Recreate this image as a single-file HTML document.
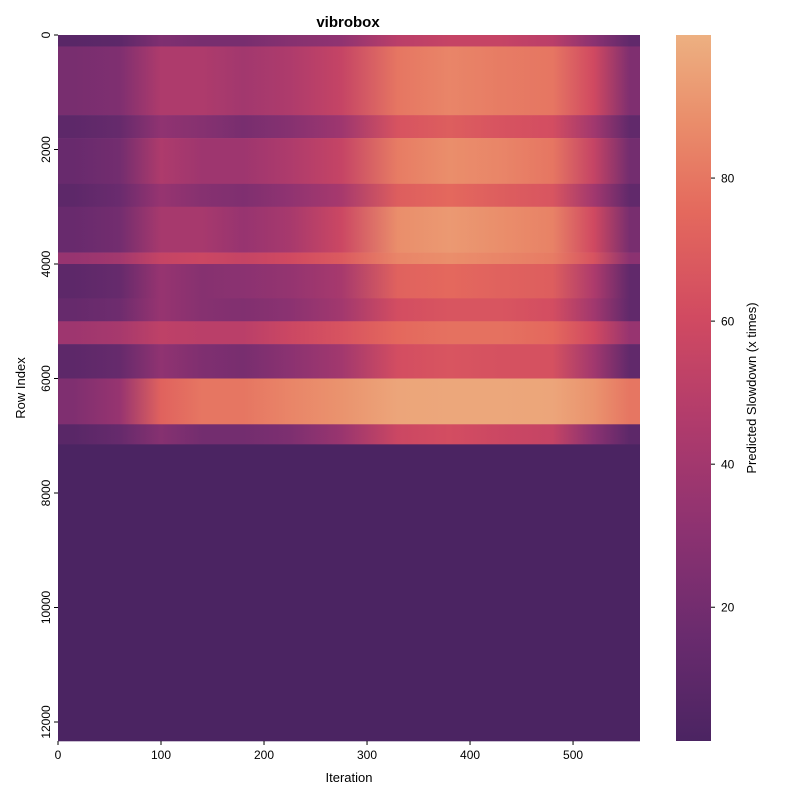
<!DOCTYPE html>
<html><head><meta charset="utf-8"><style>
body{margin:0;background:#fff;}
svg text{font-family:"Liberation Sans","DejaVu Sans",sans-serif;fill:#000;}
</style></head><body>
<svg id="chart" width="800" height="800" viewBox="0 0 800 800" xmlns="http://www.w3.org/2000/svg">
<defs id="defs">
<linearGradient id="cbar" x1="0" y1="1" x2="0" y2="0">
<stop offset="0" stop-color="#4b2462"/><stop offset="0.15" stop-color="#6a2b6e"/><stop offset="0.3" stop-color="#8d3271"/><stop offset="0.45" stop-color="#b03b6c"/><stop offset="0.6" stop-color="#d14a61"/><stop offset="0.75" stop-color="#e4695d"/><stop offset="0.88" stop-color="#ea8e6b"/><stop offset="1" stop-color="#edb081"/>
</linearGradient>
</defs>
<text x="348" y="27" font-size="15" font-weight="bold" text-anchor="middle">vibrobox</text>
<g id="cells"></g>
<g id="xaxis"></g>
<g id="yaxis"></g>
<text x="349" y="782" font-size="13" text-anchor="middle">Iteration</text>
<text transform="translate(25,388) rotate(-90)" font-size="13" text-anchor="middle">Row Index</text>
<rect x="676" y="35" width="35" height="706" fill="url(#cbar)"/>
<g id="cbaxis"></g>
<text transform="translate(756,388) rotate(-90)" font-size="13" text-anchor="middle">Predicted Slowdown (x times)</text>
</svg>
<script>
const totalRows = 12332;
const totalIters = 565;
const colCenters = [15,60,100,140,180,225,275,330,380,430,480,520,555];
const bandStarts = [0,200,1400,1800,2600,3000,3800,4000,4600,5000,5400,6000,6800,7150];
const bandEnds   = [200,1400,1800,2600,3000,3800,4000,4600,5000,5400,6000,6800,7150,12332];
const bandValues = [
 [8,10,25,22,22,28,32,50,55,55,50,30,12],
 [22,25,45,45,40,45,55,80,85,82,80,60,25],
 [10,14,32,28,22,28,38,65,70,65,62,40,12],
 [15,20,45,38,38,45,55,82,88,85,80,55,20],
 [10,16,35,28,25,32,42,70,75,70,66,40,12],
 [15,20,42,42,35,42,58,88,92,88,84,60,22],
 [35,40,55,58,55,60,68,85,88,85,82,65,30],
 [10,14,35,28,30,34,42,72,75,72,70,45,12],
 [14,18,35,28,26,30,40,62,66,66,62,40,12],
 [38,42,52,50,50,58,65,75,78,78,75,60,35],
 [10,14,32,25,22,30,40,62,66,64,64,40,12],
 [25,35,72,80,80,85,90,96,97,97,96,90,80],
 [8,14,28,20,20,24,36,58,62,58,55,30,10],
 [1,1,1,1,1,1,1,1,1,1,1,1,1]
];
const xTicks = [0,100,200,300,400,500];
const yTicks = [0,2000,4000,6000,8000,10000,12000];
const cbTicks = [20,40,60,80];
const vMin = 1.3, vMax = 100;

const X0=58, X1=640, Y0=35, Y1=741;
const xs = v => X0 + v/totalIters*(X1-X0);
const ys = r => Y0 + r/totalRows*(Y1-Y0);
const cs = v => Y1 - (v-vMin)/(vMax-vMin)*(Y1-Y0);

const stops=[[0,[75,36,98]],[0.15,[106,43,110]],[0.3,[141,50,113]],[0.45,[176,59,108]],[0.6,[209,74,97]],[0.75,[228,105,93]],[0.88,[234,142,107]],[1,[237,176,129]]];
function color(v){
  let t=Math.max(0,Math.min(1,(v-vMin)/(vMax-vMin)));
  for(let i=1;i<stops.length;i++){
    if(t<=stops[i][0]){
      const a=stops[i-1],b=stops[i],f=(t-a[0])/(b[0]-a[0]);
      const c=a[1].map((x,k)=>Math.round(x+(b[1][k]-x)*f));
      return `rgb(${c[0]},${c[1]},${c[2]})`;
    }
  }
  return 'rgb(237,176,129)';
}
const NS='http://www.w3.org/2000/svg';
function mk(tag,attrs,parent){const e=document.createElementNS(NS,tag);for(const k in attrs)e.setAttribute(k,attrs[k]);parent.appendChild(e);return e;}
const defs=document.getElementById('defs');
const cells=document.getElementById('cells');
bandValues.forEach((vals,i)=>{
  const g=mk('linearGradient',{id:'band'+i,x1:X0,x2:X1,y1:0,y2:0,gradientUnits:'userSpaceOnUse'},defs);
  vals.forEach((v,j)=>{mk('stop',{offset:(xs(colCenters[j])-X0)/(X1-X0),'stop-color':color(v)},g);});
  const y=ys(bandStarts[i]), h=ys(bandEnds[i])-y;
  const r=mk('rect',{x:X0,y:y,width:X1-X0,height:h+0.3,fill:`url(#band${i})`},cells);
  
  
});
const xa=document.getElementById('xaxis');
xTicks.forEach(t=>{
  const x=xs(t);
  const l=mk('line',{x1:x,x2:x,y1:Y1,y2:Y1+4,stroke:'#000','stroke-width':1},xa);
  
  
  const tx=mk('text',{x:x,y:Y1+18,'font-size':12,'text-anchor':'middle'},xa);
  tx.textContent=t;
  
  
});
const ya=document.getElementById('yaxis');
yTicks.forEach(t=>{
  const y=ys(t);
  const l=mk('line',{x1:X0-4,x2:X0,y1:y,y2:y,stroke:'#000','stroke-width':1},ya);
  
  
  const tx=mk('text',{transform:`translate(${X0-8},${y}) rotate(-90)`,'font-size':12,'text-anchor':'middle'},ya);
  tx.textContent=t;
  
  
});
const ca=document.getElementById('cbaxis');
cbTicks.forEach(t=>{
  const y=cs(t);
  const l=mk('line',{x1:711,x2:715,y1:y,y2:y,stroke:'#000','stroke-width':1},ca);
  
  
  const tx=mk('text',{x:721,y:y+4.5,'font-size':12},ca);
  tx.textContent=t;
  
  
});
</script>
</body></html>
